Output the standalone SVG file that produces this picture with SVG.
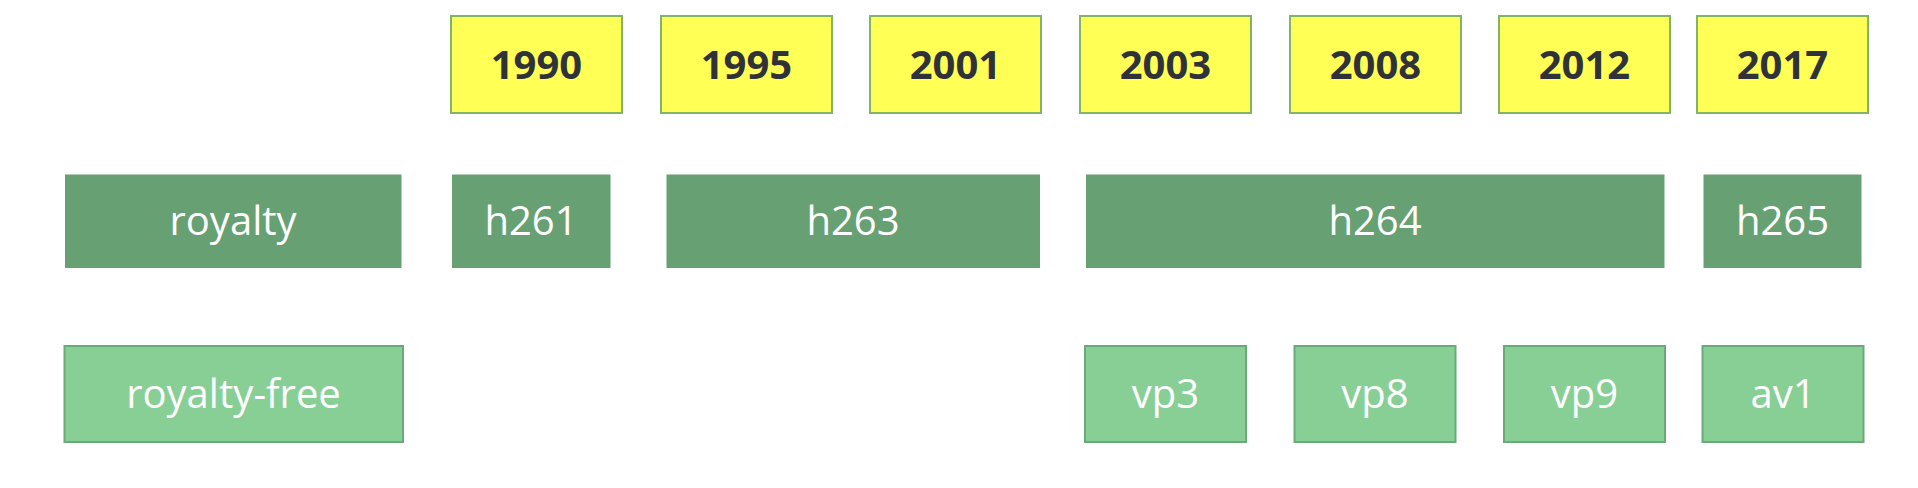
<svg xmlns="http://www.w3.org/2000/svg" width="1918" height="488" viewBox="0 0 1918 488">
<style>
.yr rect{fill:#ffff55;stroke:#82b366;stroke-width:2}
.yr text{font-family:"Open Sans","Liberation Sans",sans-serif;font-weight:bold;font-size:40px;fill:#2f3238;text-anchor:middle}
.roy rect{fill:#67a073;stroke:#67a073;stroke-width:1}
.free rect{fill:#88cf96;stroke:#6aaa7a;stroke-width:2}
.roy text,.free text{font-family:"Open Sans","Liberation Sans",sans-serif;font-size:40px;fill:#ffffff;text-anchor:middle}
</style>
<rect width="1918" height="488" fill="#ffffff"/>
<g id="y1990" class="yr"><rect x="451" y="16" width="171" height="97"/><text x="536.5" y="79">1990</text></g>
<g id="y1995" class="yr"><rect x="661" y="16" width="171" height="97"/><text x="746.5" y="79">1995</text></g>
<g id="y2001" class="yr"><rect x="870" y="16" width="171" height="97"/><text x="955.5" y="79">2001</text></g>
<g id="y2003" class="yr"><rect x="1080" y="16" width="171" height="97"/><text x="1165.5" y="79">2003</text></g>
<g id="y2008" class="yr"><rect x="1290" y="16" width="171" height="97"/><text x="1375.5" y="79">2008</text></g>
<g id="y2012" class="yr"><rect x="1499" y="16" width="171" height="97"/><text x="1584.5" y="79">2012</text></g>
<g id="y2017" class="yr"><rect x="1697" y="16" width="171" height="97"/><text x="1782.5" y="79">2017</text></g>

<g id="royalty" class="roy"><rect x="65.5" y="175" width="335.5" height="92.5"/><text x="233" y="235">royalty</text></g>
<g id="h261" class="roy"><rect x="452.5" y="175" width="157.5" height="92.5"/><text x="531" y="235">h261</text></g>
<g id="h263" class="roy"><rect x="667" y="175" width="372.5" height="92.5"/><text x="853" y="235">h263</text></g>
<g id="h264" class="roy"><rect x="1086.5" y="175" width="577.5" height="92.5"/><text x="1375" y="235">h264</text></g>
<g id="h265" class="roy"><rect x="1704" y="175" width="157" height="92.5"/><text x="1782.5" y="235">h265</text></g>

<g id="royalty-free" class="free"><rect x="64.5" y="346" width="338.5" height="96"/><text x="233.5" y="408">royalty-free</text></g>
<g id="vp3" class="free"><rect x="1085" y="346" width="161" height="96"/><text x="1165.5" y="408">vp3</text></g>
<g id="vp8" class="free"><rect x="1294.5" y="346" width="161" height="96"/><text x="1375" y="408">vp8</text></g>
<g id="vp9" class="free"><rect x="1504" y="346" width="161" height="96"/><text x="1584.5" y="408">vp9</text></g>
<g id="av1" class="free"><rect x="1702.5" y="346" width="161" height="96"/><text x="1783" y="408">av1</text></g>
<g id="connectors"></g>
</svg>
